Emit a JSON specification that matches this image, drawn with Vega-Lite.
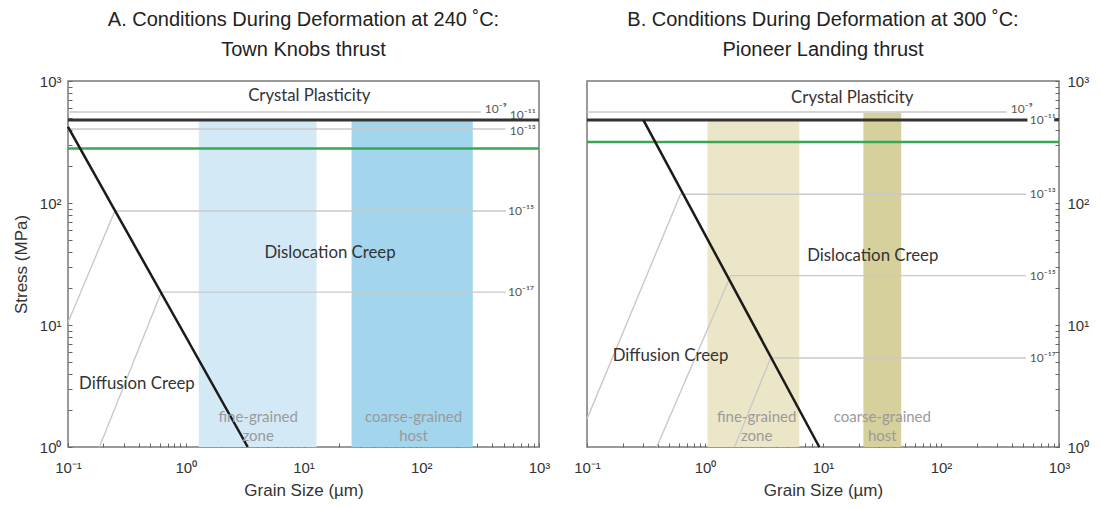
{
  "$schema": "https://vega.github.io/schema/vega-lite/v6.json",
  "background": "white",
  "padding": {"left": 11, "top": 9, "right": 2, "bottom": 2},
  "spacing": 21,
  "resolve": {"scale": {"color": "independent"}},
  "config": {
    "view": {"stroke": "#7a7a7a", "strokeWidth": 1.5},
    "axis": {"grid": false, "domain": false, "tickColor": "#666", "tickWidth": 1, "labelColor": "#333", "titleColor": "#333", "labelFont": "Liberation Sans", "titleFont": "Liberation Sans", "labelFontSize": 15, "titleFontSize": 17, "titleFontWeight": "normal", "labelOverlap": false, "labelFlush": false, "labelBound": false},
    "title": {"fontSize": 20, "fontWeight": "normal", "font": "Liberation Sans", "color": "#222", "anchor": "middle", "lineHeight": 30, "offset": 14}
  },
  "datasets": {
    "bandsA": [
      {"band": "fine", "x": 1.29, "x2": 12.9, "y": 1, "y2": 480},
      {"band": "coarse", "x": 25.6, "x2": 274, "y": 1, "y2": 480}
    ],
    "bandsB": [
      {"band": "fine", "x": 1.05, "x2": 6.3, "y": 1, "y2": 470},
      {"band": "coarse", "x": 22, "x2": 46, "y": 1, "y2": 550}
    ],
    "linesA": [
      {"kind": "contour", "series": "c9", "x": 0.1, "y": 557},
      {"kind": "contour", "series": "c9", "x": 320, "y": 557},
      {"kind": "contour", "series": "c13", "x": 0.1, "y": 404},
      {"kind": "contour", "series": "c13", "x": 520, "y": 404},
      {"kind": "contour", "series": "c15", "x": 0.1, "y": 10.5},
      {"kind": "contour", "series": "c15", "x": 0.25, "y": 86},
      {"kind": "contour", "series": "c15", "x": 525, "y": 86},
      {"kind": "contour", "series": "c17", "x": 0.185, "y": 1},
      {"kind": "contour", "series": "c17", "x": 0.62, "y": 18.6},
      {"kind": "contour", "series": "c17", "x": 525, "y": 18.6},
      {"kind": "stress", "series": "s", "x": 0.1, "y": 280},
      {"kind": "stress", "series": "s", "x": 1000, "y": 280},
      {"kind": "limit", "series": "l", "x": 0.1, "y": 480},
      {"kind": "limit", "series": "l", "x": 1000, "y": 480},
      {"kind": "piezo", "series": "p", "x": 0.1, "y": 420},
      {"kind": "piezo", "series": "p", "x": 3.36, "y": 1}
    ],
    "linesB": [
      {"kind": "contour", "series": "c9", "x": 0.1, "y": 557},
      {"kind": "contour", "series": "c9", "x": 360, "y": 557},
      {"kind": "contour", "series": "c13", "x": 0.1, "y": 1.7},
      {"kind": "contour", "series": "c13", "x": 0.62, "y": 118},
      {"kind": "contour", "series": "c13", "x": 525, "y": 118},
      {"kind": "contour", "series": "c15", "x": 0.39, "y": 1},
      {"kind": "contour", "series": "c15", "x": 1.65, "y": 25.4},
      {"kind": "contour", "series": "c15", "x": 525, "y": 25.4},
      {"kind": "contour", "series": "c17", "x": 1.78, "y": 1},
      {"kind": "contour", "series": "c17", "x": 3.6, "y": 5.37},
      {"kind": "contour", "series": "c17", "x": 525, "y": 5.37},
      {"kind": "stress", "series": "s", "x": 0.1, "y": 316},
      {"kind": "stress", "series": "s", "x": 1000, "y": 316},
      {"kind": "limit", "series": "l1", "x": 0.1, "y": 480},
      {"kind": "limit", "series": "l1", "x": 540, "y": 480},
      {"kind": "limit", "series": "l2", "x": 910, "y": 480},
      {"kind": "limit", "series": "l2", "x": 1000, "y": 480},
      {"kind": "piezo", "series": "p", "x": 0.3, "y": 480},
      {"kind": "piezo", "series": "p", "x": 9.3, "y": 1}
    ],
    "textA": [
      {"kind": "region", "label": "Crystal Plasticity", "x": 11.2, "y": 754},
      {"kind": "region", "label": "Dislocation Creep", "x": 16.8, "y": 38.9},
      {"kind": "region", "label": "Diffusion Creep", "x": 0.385, "y": 3.28},
      {"kind": "grain", "label": "fine-grained", "x": 4.12, "y": 1.77},
      {"kind": "grain", "label": "zone", "x": 4.12, "y": 1.24},
      {"kind": "grain", "label": "coarse-grained", "x": 86, "y": 1.77},
      {"kind": "grain", "label": "host", "x": 86, "y": 1.24},
      {"kind": "contour", "label": "10⁻⁹", "x": 347, "y": 590},
      {"kind": "contour", "label": "10⁻¹¹", "x": 565, "y": 522},
      {"kind": "contour", "label": "10⁻¹³", "x": 565, "y": 390},
      {"kind": "contour", "label": "10⁻¹⁵", "x": 545, "y": 86},
      {"kind": "contour", "label": "10⁻¹⁷", "x": 545, "y": 18.6}
    ],
    "textB": [
      {"kind": "region", "label": "Crystal Plasticity", "x": 17.7, "y": 721},
      {"kind": "region", "label": "Dislocation Creep", "x": 26.4, "y": 37},
      {"kind": "region", "label": "Diffusion Creep", "x": 0.51, "y": 5.57},
      {"kind": "grain", "label": "fine-grained", "x": 2.74, "y": 1.77},
      {"kind": "grain", "label": "zone", "x": 2.74, "y": 1.24},
      {"kind": "grain", "label": "coarse-grained", "x": 31.8, "y": 1.77},
      {"kind": "grain", "label": "host", "x": 31.8, "y": 1.24},
      {"kind": "contour", "label": "10⁻⁹", "x": 390, "y": 590},
      {"kind": "contour", "label": "10⁻¹¹", "x": 566, "y": 478},
      {"kind": "contour", "label": "10⁻¹³", "x": 566, "y": 118},
      {"kind": "contour", "label": "10⁻¹⁵", "x": 566, "y": 25.4},
      {"kind": "contour", "label": "10⁻¹⁷", "x": 566, "y": 5.37}
    ]
  },
  "hconcat": [
    {
      "width": 471,
      "height": 366,
      "title": {"text": ["A. Conditions During Deformation at 240 ˚C:", "Town Knobs thrust"]},
      "encoding": {
        "x": {"field": "x", "type": "quantitative", "scale": {"type": "log", "domain": [0.1, 1000], "nice": false},
          "axis": {"title": "Grain Size (µm)", "values": [0.1,0.2,0.3,0.4,0.5,0.6,0.7,0.8,0.9,1,2,3,4,5,6,7,8,9,10,20,30,40,50,60,70,80,90,100,200,300,400,500,600,700,800,900,1000],
            "labelExpr": "datum.value==0.1?'10⁻¹':datum.value==1?'10⁰':datum.value==10?'10¹':datum.value==100?'10²':datum.value==1000?'10³':''",
            "tickSize": -4, "labelPadding": 17, "titlePadding": 7}},
        "y": {"field": "y", "type": "quantitative", "scale": {"type": "log", "domain": [1, 1000], "nice": false},
          "axis": {"title": "Stress (MPa)", "values": [1,2,3,4,5,6,7,8,9,10,20,30,40,50,60,70,80,90,100,200,300,400,500,600,700,800,900,1000],
            "labelExpr": "datum.value==1?'10⁰':datum.value==10?'10¹':datum.value==100?'10²':datum.value==1000?'10³':''",
            "tickSize": -4, "labelPadding": 11, "titlePadding": 9}}
      },
      "layer": [
        {"data": {"name": "bandsA"}, "mark": {"type": "rect"},
          "encoding": {"x2": {"field": "x2"}, "y2": {"field": "y2"},
            "color": {"field": "band", "type": "nominal", "scale": {"domain": ["fine", "coarse"], "range": ["#d3e9f6", "#a3d5ed"]}, "legend": null}}},
        {"data": {"name": "linesA"}, "transform": [{"filter": "datum.kind=='contour'"}], "mark": {"type": "line", "color": "#c9c9c9", "strokeWidth": 1.4},
          "encoding": {"detail": {"field": "series"}}},
        {"data": {"name": "linesA"}, "transform": [{"filter": "datum.kind=='stress'"}], "mark": {"type": "line", "color": "#35a855", "strokeWidth": 2.5},
          "encoding": {"detail": {"field": "series"}}},
        {"data": {"name": "linesA"}, "transform": [{"filter": "datum.kind=='limit'"}], "mark": {"type": "line", "color": "#333333", "strokeWidth": 3},
          "encoding": {"detail": {"field": "series"}}},
        {"data": {"name": "linesA"}, "transform": [{"filter": "datum.kind=='piezo'"}], "mark": {"type": "line", "color": "#1a1a1a", "strokeWidth": 2.5},
          "encoding": {"detail": {"field": "series"}}},
        {"data": {"name": "textA"}, "transform": [{"filter": "datum.kind=='region'"}], "mark": {"type": "text", "font": "Lato", "fontSize": 16.8, "color": "#333333"},
          "encoding": {"text": {"field": "label"}}},
        {"data": {"name": "textA"}, "transform": [{"filter": "datum.kind=='grain'"}], "mark": {"type": "text", "font": "Lato", "fontSize": 15, "color": "#9a9a9a"},
          "encoding": {"text": {"field": "label"}}},
        {"data": {"name": "textA"}, "transform": [{"filter": "datum.kind=='contour'"}], "mark": {"type": "text", "font": "Lato", "fontSize": 12, "color": "#555", "align": "left"},
          "encoding": {"text": {"field": "label"}}}
      ]
    },
    {
      "width": 472,
      "height": 366,
      "title": {"text": ["B. Conditions During Deformation at 300 ˚C:", "Pioneer Landing thrust"]},
      "encoding": {
        "x": {"field": "x", "type": "quantitative", "scale": {"type": "log", "domain": [0.1, 1000], "nice": false},
          "axis": {"title": "Grain Size (µm)", "values": [0.1,0.2,0.3,0.4,0.5,0.6,0.7,0.8,0.9,1,2,3,4,5,6,7,8,9,10,20,30,40,50,60,70,80,90,100,200,300,400,500,600,700,800,900,1000],
            "labelExpr": "datum.value==0.1?'10⁻¹':datum.value==1?'10⁰':datum.value==10?'10¹':datum.value==100?'10²':datum.value==1000?'10³':''",
            "tickSize": -4, "labelPadding": 17, "titlePadding": 7}},
        "y": {"field": "y", "type": "quantitative", "scale": {"type": "log", "domain": [1, 1000], "nice": false},
          "axis": {"title": null, "orient": "right", "values": [1,2,3,4,5,6,7,8,9,10,20,30,40,50,60,70,80,90,100,200,300,400,500,600,700,800,900,1000],
            "labelExpr": "datum.value==1?'10⁰':datum.value==10?'10¹':datum.value==100?'10²':datum.value==1000?'10³':''",
            "tickSize": -4, "labelPadding": 12}}
      },
      "layer": [
        {"data": {"name": "bandsB"}, "mark": {"type": "rect"},
          "encoding": {"x2": {"field": "x2"}, "y2": {"field": "y2"},
            "color": {"field": "band", "type": "nominal", "scale": {"domain": ["fine", "coarse"], "range": ["#ece6c8", "#d5d09c"]}, "legend": null}}},
        {"data": {"name": "linesB"}, "transform": [{"filter": "datum.kind=='contour'"}], "mark": {"type": "line", "color": "#c9c9c9", "strokeWidth": 1.4},
          "encoding": {"detail": {"field": "series"}}},
        {"data": {"name": "linesB"}, "transform": [{"filter": "datum.kind=='stress'"}], "mark": {"type": "line", "color": "#35a855", "strokeWidth": 2.5},
          "encoding": {"detail": {"field": "series"}}},
        {"data": {"name": "linesB"}, "transform": [{"filter": "datum.kind=='limit'"}], "mark": {"type": "line", "color": "#333333", "strokeWidth": 3},
          "encoding": {"detail": {"field": "series"}}},
        {"data": {"name": "linesB"}, "transform": [{"filter": "datum.kind=='piezo'"}], "mark": {"type": "line", "color": "#1a1a1a", "strokeWidth": 2.5},
          "encoding": {"detail": {"field": "series"}}},
        {"data": {"name": "textB"}, "transform": [{"filter": "datum.kind=='region'"}], "mark": {"type": "text", "font": "Lato", "fontSize": 16.8, "color": "#333333"},
          "encoding": {"text": {"field": "label"}}},
        {"data": {"name": "textB"}, "transform": [{"filter": "datum.kind=='grain'"}], "mark": {"type": "text", "font": "Lato", "fontSize": 15, "color": "#9a9a9a"},
          "encoding": {"text": {"field": "label"}}},
        {"data": {"name": "textB"}, "transform": [{"filter": "datum.kind=='contour'"}], "mark": {"type": "text", "font": "Lato", "fontSize": 12, "color": "#555", "align": "left"},
          "encoding": {"text": {"field": "label"}}}
      ]
    }
  ]
}
